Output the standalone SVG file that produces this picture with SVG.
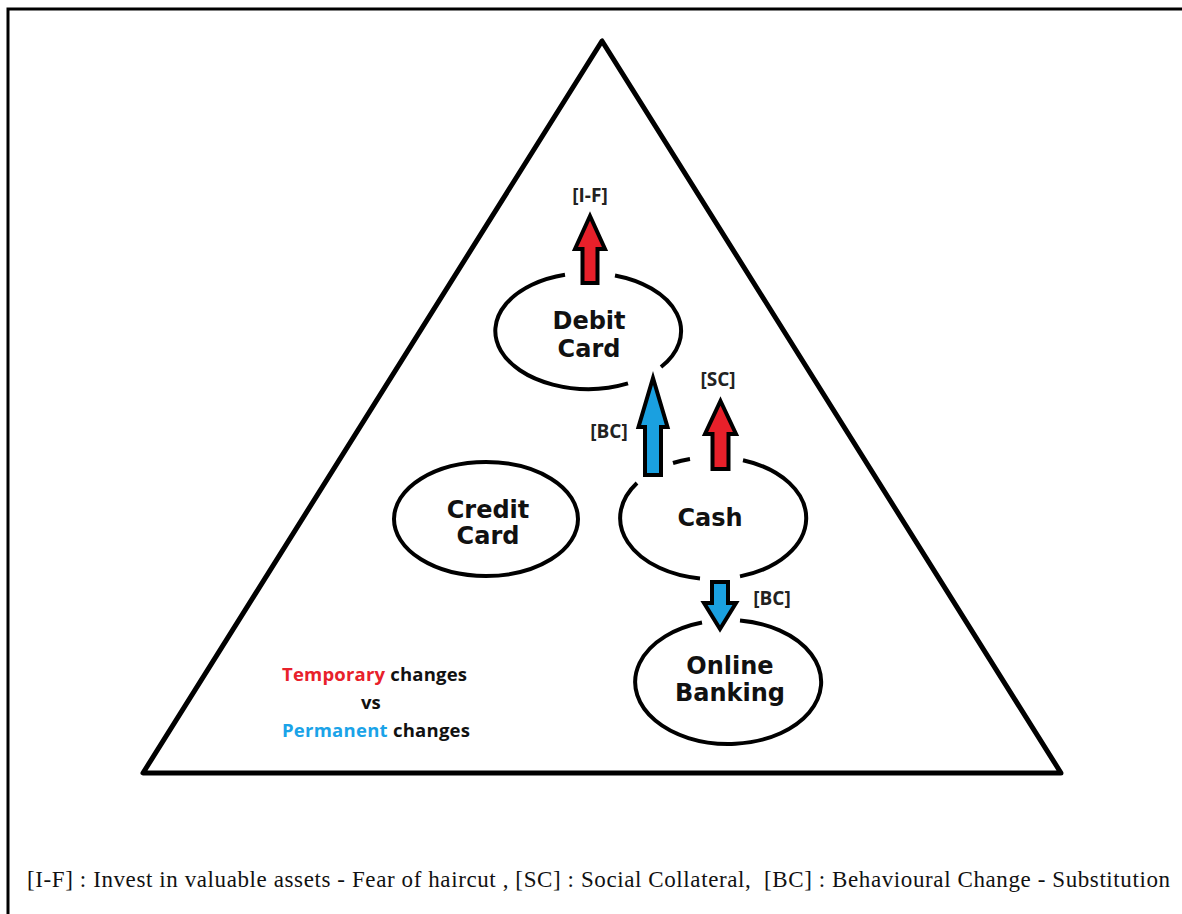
<svg xmlns="http://www.w3.org/2000/svg" width="1182" height="914" viewBox="0 0 1182 914">
<style>
.frame{fill:none;stroke:#000;stroke-width:3}
.tri{fill:none;stroke:#000;stroke-width:5;stroke-linejoin:round}
.ell{fill:none;stroke:#000;stroke-width:4}
.node{font-family:"DejaVu Sans",Verdana,sans-serif;font-weight:bold;font-size:24px;fill:#111;text-anchor:middle}
.lbl{font-family:"Open Sans",Calibri,sans-serif;font-weight:bold;font-size:19px;fill:#222;text-anchor:middle}
.leg{font-family:"Open Sans",Calibri,sans-serif;font-weight:bold;font-size:18.5px;fill:#111}
.red{fill:#e8202a}
.blue{fill:#1aa0e0}
.arr{stroke:#000;stroke-width:4;stroke-linejoin:miter}
.foot{font-family:"Liberation Serif","Times New Roman",serif;font-size:23px;fill:#111}
</style>
<rect width="1182" height="914" fill="#fff"/>
<path class="frame" d="M8 914 V9 H1182"/>
<polygon class="tri" points="602,41 143,773 1061,773"/>

<g id="debit-card">
<path class="ell" d="M615 275.5 A93 58 0 0 1 661 367 M628 383.4 A93 58 0 1 1 565 274.8"/>
<text class="node" x="589" y="329">Debit</text>
<text class="node" x="589" y="357">Card</text>
</g>
<g id="credit-card">
<ellipse class="ell" cx="486" cy="519" rx="92" ry="57"/>
<text class="node" x="488" y="518">Credit</text>
<text class="node" x="488" y="544">Card</text>
</g>
<g id="cash">
<path class="ell" d="M743 460.2 A93 61 0 0 1 740 576.4 M700 578.4 A93 61 0 0 1 637 483 M673 463 A93 61 0 0 1 690 459"/>
<text class="node" x="710" y="526">Cash</text>
</g>
<g id="online-banking">
<path class="ell" d="M740 620.5 A93 62 0 1 1 702 622.5"/>
<text class="node" x="730" y="674">Online</text>
<text class="node" x="730" y="701">Banking</text>
</g>

<g id="connectors">
<polygon class="arr red" points="590,216 605,249 597.5,249 597.5,283 582.5,283 582.5,249 575,249"/>
<polygon class="arr blue" points="653,378 667.5,427 661,427 661,475 645,475 645,427 638.5,427"/>
<polygon class="arr red" points="720.5,401 736,434 728.5,434 728.5,469 712.5,469 712.5,434 705,434"/>
<polygon class="arr blue" points="720,629 736,603 728,603 728,582 712,582 712,603 704,603"/>
<text class="lbl" x="590" y="202">[I-F]</text>
<text class="lbl" x="718" y="386">[SC]</text>
<text class="lbl" x="609" y="438">[BC]</text>
<text class="lbl" x="772" y="605">[BC]</text>
</g>

<g id="legend">
<text class="leg" x="282" y="681" textLength="185"><tspan fill="#e8212b">Temporary</tspan> changes</text>
<text class="leg" x="361" y="709">vs</text>
<text class="leg" x="282" y="737" textLength="188"><tspan fill="#1aa3e8">Permanent</tspan> changes</text>
</g>

<text class="foot" x="27" y="887" textLength="1143" xml:space="preserve">[I-F] : Invest in valuable assets - Fear of haircut , [SC] : Social Collateral,  [BC] : Behavioural Change - Substitution</text>
</svg>
